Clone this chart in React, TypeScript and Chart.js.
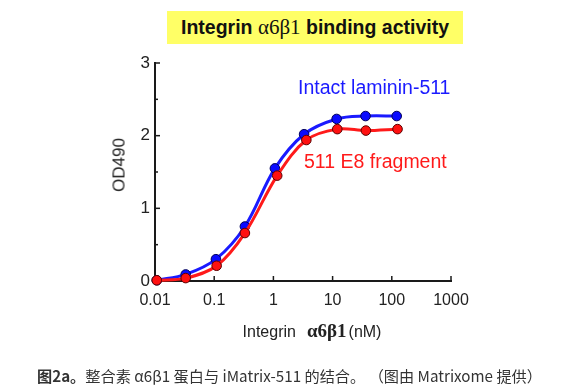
import React, { useEffect, useRef } from 'react';
import { Chart, registerables } from 'chart.js';

Chart.register(...registerables);

// ---- data ----
const concBlue = [0.0107, 0.033, 0.107, 0.33, 1.06, 3.3, 11.7, 36, 121];
const odBlue = [0.01, 0.09, 0.3, 0.75, 1.55, 2.02, 2.23, 2.27, 2.27];
const concRed = [0.0107, 0.033, 0.11, 0.33, 1.16, 3.6, 12, 36.5, 125];
const odRed = [0.01, 0.04, 0.21, 0.66, 1.45, 1.94, 2.09, 2.07, 2.09];
const xTicks = [0.01, 0.1, 1, 10, 100, 1000];
const xTickLabels = ['0.01', '0.1', '1', '10', '100', '1000'];
const yTicks = [0, 0.5, 1, 1.5, 2, 2.5, 3];
const yTickLabels = ['0', '', '1', '', '2', '', '3'];
const seriesNames = ['Intact laminin-511', '511 E8 fragment'];

const SANS = '"Liberation Sans", Arial, sans-serif';
const SERIF = '"Liberation Serif", "Times New Roman", serif';
const CJK = '"Noto Sans CJK SC", "Noto Sans", sans-serif';

const inwardTicks = {
  id: 'inwardTicks',
  beforeDatasetsDraw(chart: any) {
    const { ctx, chartArea, scales } = chart;
    ctx.save();
    ctx.strokeStyle = '#1a1a1a';
    ctx.lineWidth = 1.5;
    xTicks.forEach((v) => {
      const px = scales.x.getPixelForValue(v);
      ctx.beginPath();
      ctx.moveTo(px, chartArea.bottom);
      ctx.lineTo(px, chartArea.bottom - 5);
      ctx.stroke();
    });
    yTicks.forEach((v) => {
      const py = scales.y.getPixelForValue(v);
      const len = Number.isInteger(v) ? 5 : 3;
      ctx.beginPath();
      ctx.moveTo(chartArea.left, py);
      ctx.lineTo(chartArea.left + len, py);
      ctx.stroke();
    });
    ctx.restore();
  },
};

function ChartCanvas() {
  const ref = useRef<HTMLCanvasElement | null>(null);
  useEffect(() => {
    if (!ref.current) return;
    const chart = new Chart(ref.current, {
      type: 'line',
      data: {
        datasets: [
          {
            label: seriesNames[1],
            data: concRed.map((x, i) => ({ x, y: odRed[i] })),
            borderColor: '#ff1a1a',
            backgroundColor: '#ff1010',
            pointBorderColor: '#5a0000',
            pointBorderWidth: 1,
            pointRadius: 4.8,
            borderWidth: 3,
            tension: 0.35,
            clip: false as any,
          },
          {
            label: seriesNames[0],
            data: concBlue.map((x, i) => ({ x, y: odBlue[i] })),
            borderColor: '#1a1aff',
            backgroundColor: '#0a0aff',
            pointBorderColor: '#00005a',
            pointBorderWidth: 1,
            pointRadius: 4.8,
            borderWidth: 3,
            tension: 0.35,
            clip: false as any,
          },
        ],
      },
      options: {
        animation: false,
        responsive: false,
        devicePixelRatio: 1,
        layout: { padding: { left: 115, right: 120, top: 63, bottom: 77 } },
        plugins: { legend: { display: false }, tooltip: { enabled: false } },
        scales: {
          x: {
            type: 'logarithmic',
            min: 0.01,
            max: 1000,
            afterBuildTicks: (scale: any) => {
              scale.ticks = xTicks.map((v) => ({ value: v }));
            },
            afterFit: (scale: any) => {
              scale.height = 30;
              scale.paddingLeft = 0;
              scale.paddingRight = 0;
            },
            grid: { drawOnChartArea: false, drawTicks: false },
            border: { display: true, color: '#1a1a1a', width: 2 },
            ticks: {
              autoSkip: false,
              maxRotation: 0,
              padding: 10,
              color: '#222',
              font: { family: SANS, size: 16 },
              callback: (value: any) => {
                const i = xTicks.findIndex((t) => Math.abs(t - Number(value)) < t * 1e-6);
                return i >= 0 ? xTickLabels[i] : '';
              },
            },
          },
          y: {
            type: 'linear',
            min: 0,
            max: 3,
            afterBuildTicks: (scale: any) => {
              scale.ticks = yTicks.map((v) => ({ value: v }));
            },
            afterFit: (scale: any) => {
              scale.width = 40;
              scale.paddingTop = 0;
              scale.paddingBottom = 0;
            },
            grid: { drawOnChartArea: false, drawTicks: false },
            border: { display: true, color: '#1a1a1a', width: 2 },
            ticks: {
              autoSkip: false,
              padding: 5,
              color: '#222',
              font: { family: SANS, size: 17 },
              callback: (value: any) => {
                const i = yTicks.indexOf(Number(value));
                return i >= 0 ? yTickLabels[i] : '';
              },
            },
          },
        },
      },
      plugins: [inwardTicks],
    });
    return () => chart.destroy();
  }, []);
  return (
    <canvas
      ref={ref}
      width={571}
      height={388}
      style={{ position: 'absolute', left: 0, top: 0, width: 571, height: 388 }}
    />
  );
}

export default function App() {
  return (
    <div
      style={{
        position: 'fixed',
        left: 0,
        top: 0,
        width: 571,
        height: 388,
        background: '#fff',
        overflow: 'hidden',
      }}
    >
      <ChartCanvas />
      {/* title */}
      <div
        style={{
          position: 'absolute',
          left: 167,
          top: 11,
          width: 296,
          height: 33,
          background: '#ffff66',
          display: 'flex',
          alignItems: 'center',
          justifyContent: 'center',
          whiteSpace: 'nowrap',
          color: '#111',
        }}
      >
        <span style={{ font: `bold 19.5px ${SANS}` }}>Integrin&nbsp;</span>
        <span style={{ font: `21px ${SERIF}` }}>α6β1</span>
        <span style={{ font: `bold 19.5px ${SANS}` }}>&nbsp;binding activity</span>
      </div>
      {/* series labels */}
      <div
        style={{
          position: 'absolute',
          left: 298,
          top: 78,
          font: `19.5px ${SANS}`,
          lineHeight: '19px',
          color: '#1a1aff',
          whiteSpace: 'nowrap',
        }}
      >
        {seriesNames[0]}
      </div>
      <div
        style={{
          position: 'absolute',
          left: 304,
          top: 152,
          font: `19.5px ${SANS}`,
          lineHeight: '19px',
          color: '#ff1a1a',
          whiteSpace: 'nowrap',
        }}
      >
        {seriesNames[1]}
      </div>
      {/* y axis title */}
      <div
        style={{
          position: 'absolute',
          left: 119,
          top: 165,
          transform: 'translate(-50%, -50%) rotate(-90deg)',
          font: `17px ${SANS}`,
          lineHeight: '17px',
          color: '#222',
          whiteSpace: 'nowrap',
        }}
      >
        OD490
      </div>
      {/* x axis title */}
      <div
        style={{
          position: 'absolute',
          left: 312,
          top: 331,
          transform: 'translate(-50%, -50%)',
          whiteSpace: 'nowrap',
          color: '#222',
          display: 'flex',
          alignItems: 'baseline',
        }}
      >
        <span style={{ font: `16px ${SANS}` }}>Integrin</span>
        <span style={{ font: `bold 19px ${SERIF}`, marginLeft: 11 }}>α6β1</span>
        <span style={{ font: `16px ${SANS}`, marginLeft: 2 }}>(nM)</span>
      </div>
      {/* caption */}
      <div
        style={{
          position: 'absolute',
          left: 37,
          top: 365,
          font: `15.2px ${CJK}`,
          lineHeight: '20px',
          color: '#333',
          whiteSpace: 'nowrap',
        }}
      >
        <b>图2a。</b>整合素 α6β1 蛋白与 iMatrix-511 的结合。 （图由 Matrixome 提供）
      </div>
    </div>
  );
}
